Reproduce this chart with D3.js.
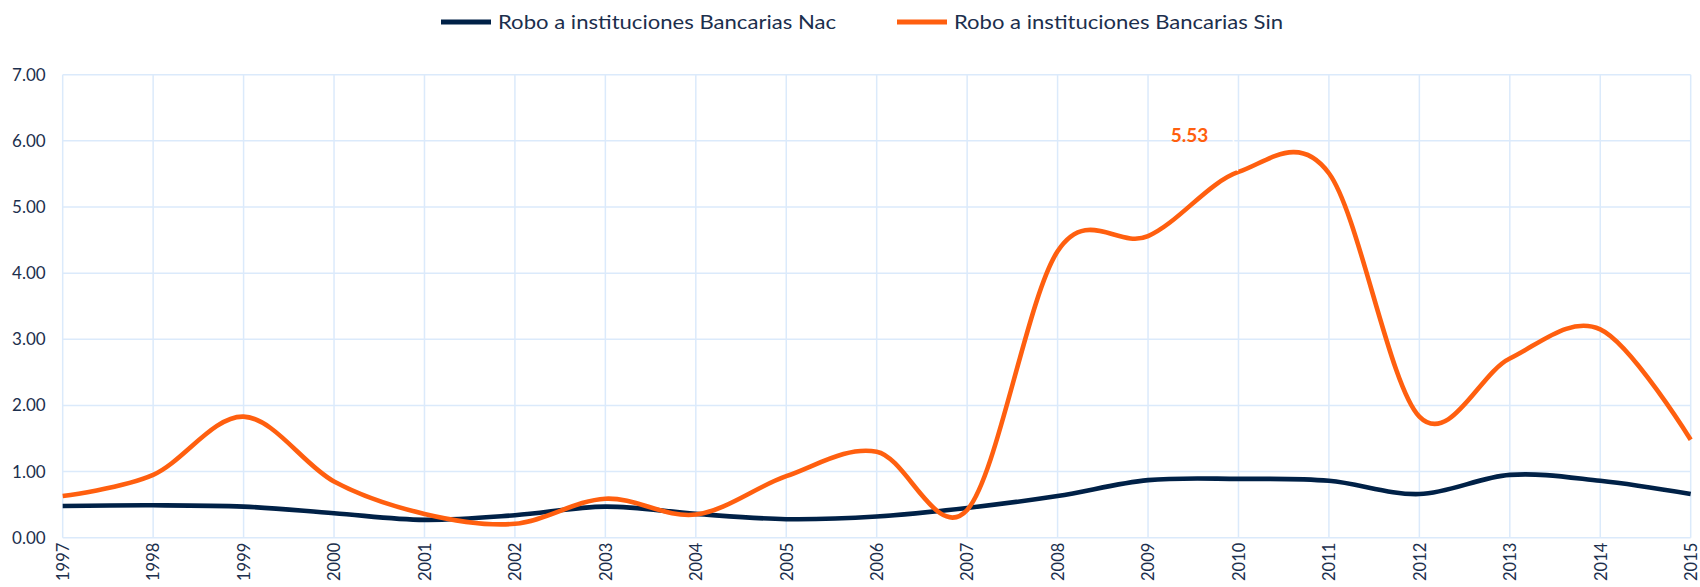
<!DOCTYPE html>
<html>
<head>
<meta charset="utf-8">
<script src="https://cdn.jsdelivr.net/npm/d3@7"></script>
<style>
  html, body { margin: 0; padding: 0; background: #ffffff; }
  svg { display: block; }
  text { font-family: "Lato", "Open Sans", sans-serif; fill: #1c2f4d; }
</style>
</head>
<body>
<svg id="chart" width="1700" height="587"></svg>
<script>
// Robo a instituciones bancarias, 1997–2015
const years = ["1997","1998","1999","2000","2001","2002","2003","2004","2005","2006",
               "2007","2008","2009","2010","2011","2012","2013","2014","2015"];
const nacValues = [0.48, 0.49, 0.47, 0.37, 0.27, 0.34, 0.47, 0.36, 0.28, 0.32,
                   0.45, 0.63, 0.87, 0.89, 0.86, 0.66, 0.95, 0.86, 0.66];
const sinValues = [0.63, 0.95, 1.83, 0.85, 0.36, 0.21, 0.59, 0.35, 0.93, 1.30,
                   0.42, 4.33, 4.56, 5.53, 5.51, 1.83, 2.71, 3.15, 1.48];
const seriesNames = ["Robo a instituciones Bancarias Nac", "Robo a instituciones Bancarias Sin"];
const seriesColors = ["#002147", "#ff5f0f"];
const yTicks = [0, 1, 2, 3, 4, 5, 6, 7];
const labeledYear = "2010";

const svg = d3.select("#chart");
const plot = { left: 62.7, right: 1690.7, top: 74.7, bottom: 537.7 };

const x = d3.scalePoint().domain(years).range([plot.left, plot.right]);
const y = d3.scaleLinear().domain([0, 7]).range([plot.bottom, plot.top]);

const gridColor = "#dbeafb";

// horizontal gridlines
svg.append("g").selectAll("line").data(yTicks).join("line")
  .attr("x1", plot.left).attr("x2", plot.right)
  .attr("y1", d => y(d)).attr("y2", d => y(d))
  .attr("stroke", gridColor).attr("stroke-width", 1.5);

// vertical gridlines
svg.append("g").selectAll("line").data(years).join("line")
  .attr("x1", d => x(d)).attr("x2", d => x(d))
  .attr("y1", plot.top).attr("y2", plot.bottom)
  .attr("stroke", gridColor).attr("stroke-width", 1.5);

// y axis labels
const yAxis = d3.axisLeft(y).tickValues(yTicks).tickFormat(d3.format(".2f")).tickSize(0).tickPadding(17);
svg.append("g").attr("transform", `translate(${plot.left},0)`).call(yAxis)
  .call(g => g.select(".domain").remove())
  .selectAll("text")
  .style("font-size", "17px")
  .attr("fill", "#1c2f4d");

// x axis labels (rotated)
const xAxis = d3.axisBottom(x).tickSize(0).tickPadding(0);
svg.append("g").attr("transform", `translate(0,${plot.bottom})`).call(xAxis)
  .call(g => g.select(".domain").remove())
  .selectAll("text")
  .style("font-size", "16.5px")
  .attr("fill", "#1c2f4d")
  .attr("text-anchor", "end")
  .attr("dy", "0.35em")
  .attr("transform", "translate(0,5) rotate(-90)")
  .attr("x", 0).attr("y", 0);

// smoothed lines
const line = d3.line()
  .x((d, i) => x(years[i]))
  .y(d => y(d))
  .curve(d3.curveCardinal.tension(0));

[nacValues, sinValues].forEach((vals, k) => {
  svg.append("path")
    .datum(vals)
    .attr("d", line)
    .attr("fill", "none")
    .attr("stroke", seriesColors[k])
    .attr("stroke-width", 4.6)
    .attr("stroke-linejoin", "round")
    .attr("stroke-linecap", "butt");
});

// data label with leader line
const li = years.indexOf(labeledYear);
const lx = x(labeledYear), ly = y(sinValues[li]);
svg.append("path")
  .attr("d", `M${lx - 19},${y(6) - 7.5} L${lx - 6},${y(6) - 7.5} L${lx - 1},${ly - 1}`)
  .attr("fill", "none")
  .attr("stroke", "#ffffff")
  .attr("stroke-width", 1.6);
svg.append("text")
  .attr("x", lx - 49)
  .attr("y", y(6) + 1)
  .attr("text-anchor", "middle")
  .style("font-size", "19px")
  .style("font-weight", "700")
  .style("fill", seriesColors[1])
  .text(d3.format(".2f")(sinValues[li]));

// legend
const legendItems = [
  { name: seriesNames[0], color: seriesColors[0], x: 441 },
  { name: seriesNames[1], color: seriesColors[1], x: 897 }
];
const lg = svg.append("g");
legendItems.forEach(it => {
  lg.append("line")
    .attr("x1", it.x).attr("x2", it.x + 50)
    .attr("y1", 22).attr("y2", 22)
    .attr("stroke", it.color).attr("stroke-width", 5);
  lg.append("text")
    .attr("x", it.x + 57).attr("y", 22)
    .attr("dy", "0.35em")
    .style("font-size", "19px")
    .attr("textLength", it === legendItems[0] ? 338 : 329)
    .attr("lengthAdjust", "spacingAndGlyphs")
    .text(it.name);
});
</script>
</body>
</html>
